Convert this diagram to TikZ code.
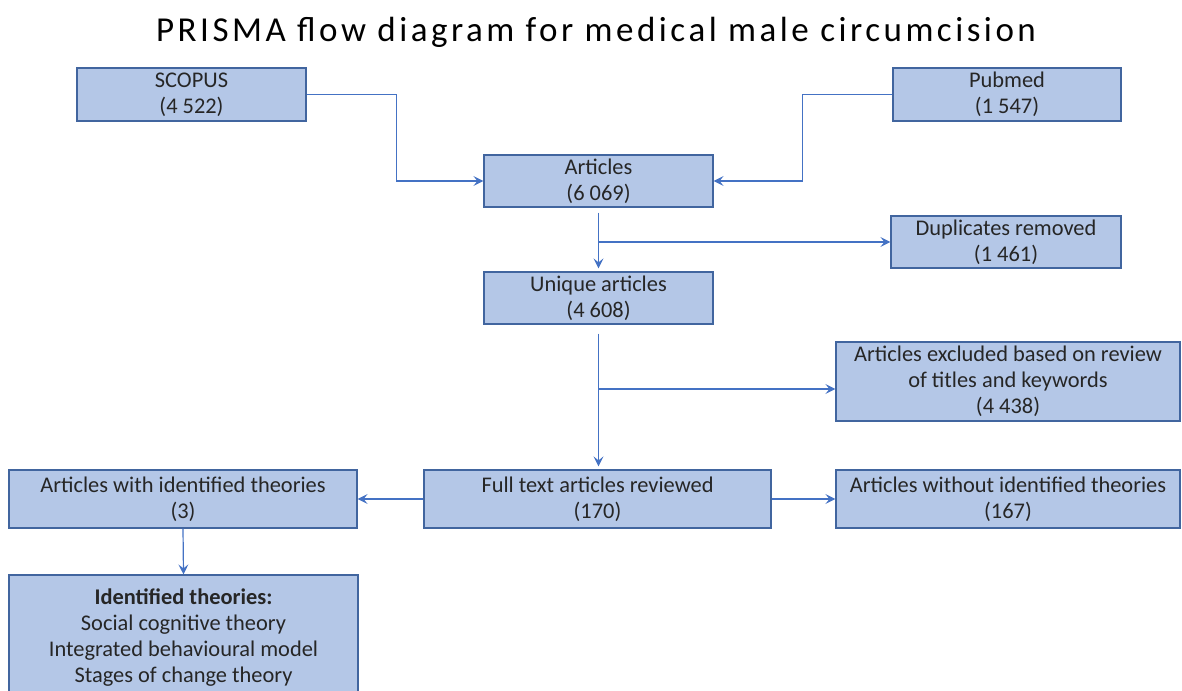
\documentclass[tikz,border=0pt]{standalone}
\usepackage{fontspec}
\setmainfont{Carlito}
\usetikzlibrary{positioning,arrows.meta}
\definecolor{box-blue}{HTML}{B4C7E7}
\definecolor{edge-blue}{HTML}{41659F}
\definecolor{line-blue}{HTML}{4472C4}
\definecolor{text-gray}{HTML}{262626}
\tikzstyle{prboxstyle}=[shape=rectangle,fill=box-blue,draw=edge-blue,line width=1.2pt,align=center,inner sep=0pt,font=\fontsize{22.4}{26}\selectfont,text=text-gray]
\tikzstyle{prarrowstyle}=[draw=line-blue,line width=1.2pt,-{Stealth[length=10pt,width=10pt,inset=4pt]}]
\tikzstyle{prtitlestyle}=[inner sep=0pt,font=\fontsize{35}{40}\selectfont\addfontfeature{LetterSpace=10}]
\newcommand{\prbox}[6]{ \node [style=prboxstyle,minimum width=#4pt,minimum height=#5pt] (#1) at (#2,#3) {#6}; }

\begin{document}
\begin{tikzpicture}[x=1pt,y=-1pt]
\useasboundingbox (0,0) rectangle (1182,690);
\node [style=prtitlestyle] (title) at (596,32) {PRISMA flow diagram for medical male circumcision}; %
\prbox{scopus}{191.5}{94.5}{229}{53}{SCOPUS\\(4 522)} %
\prbox{pubmed}{1007}{94.5}{228}{53}{Pubmed\\(1 547)} %
\prbox{articles}{598.5}{181}{229}{52}{Articles\\(6 069)} %
\prbox{dup}{1006}{242}{230}{52}{Duplicates removed\\(1 461)} %
\prbox{unique}{598.5}{298}{229}{52}{Unique articles\\(4 608)} %
\prbox{excl}{1008}{381.5}{344}{79}{Articles excluded based on review\\of titles and keywords\\(4 438)} %
\prbox{full}{597.5}{499}{347}{58}{Full text articles reviewed\\(170)} %
\prbox{without}{1008}{499}{344}{58}{Articles without identified theories\\(167)} %
\prbox{with}{183}{499}{348}{58}{Articles with identified theories\\(3)} %
\prbox{theories}{183.5}{637.5}{349}{125}{\textbf{Identified theories:}\\Social cognitive theory\\Integrated behavioural model\\Stages of change theory} %
\coordinate (dupfork) at (articles.south |- dup.west); %
\coordinate (exclfork) at (unique.south |- 0,389); %
\draw [style=prarrowstyle] (scopus.east) -- ++(90,0) |- (articles.west); %
\draw [style=prarrowstyle] (pubmed.west) -- ++(-90,0) |- (articles.east); %
\draw [style=prarrowstyle,shorten <=5pt,shorten >=3pt] (articles.south) -- (unique.north); %
\draw [style=prarrowstyle] (dupfork) -- (dup.west); %
\draw [style=prarrowstyle,shorten <=9pt,shorten >=3pt] (unique.south) -- (unique.south |- full.north); %
\draw [style=prarrowstyle] (exclfork) -- (exclfork -| excl.west); %
\draw [style=prarrowstyle] (full.west) -- (with.east); %
\draw [style=prarrowstyle] (full.east) -- (without.west); %
\draw [style=prarrowstyle] (with.south) -- (theories.north); %
\end{tikzpicture}
\end{document}
